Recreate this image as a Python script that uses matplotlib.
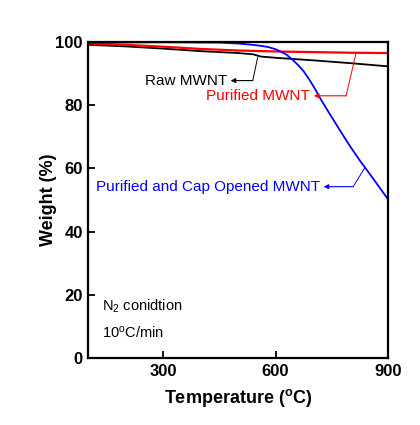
import numpy as np
import matplotlib
matplotlib.use("Agg")
import matplotlib.pyplot as plt

plt.rcParams['font.family'] = ['Liberation Sans', 'DejaVu Sans']
plt.rcParams['mathtext.fontset'] = 'custom'
plt.rcParams['mathtext.rm'] = 'Liberation Sans'
plt.rcParams['mathtext.it'] = 'Liberation Sans:italic'
plt.rcParams['mathtext.bf'] = 'Liberation Sans:bold'

# TGA curves
raw_T = [100, 200, 300, 400, 500, 540, 560, 600, 700, 800, 900]
raw_W = [99.0, 98.5, 97.8, 97.0, 96.4, 96.0, 95.3, 94.9, 94.1, 93.2, 92.2]

pur_T = [100, 200, 300, 400, 500, 600, 700, 800, 900]
pur_W = [99.4, 99.0, 98.4, 97.7, 97.2, 96.9, 96.7, 96.5, 96.4]

cap_T = [100, 300, 450, 500, 530, 560, 580, 600, 615, 630, 645, 660, 675, 690,
         705, 720, 740, 760, 780, 800, 825, 850, 875, 900]
cap_W = [99.7, 99.8, 99.7, 99.4, 99.1, 98.7, 98.3, 97.6, 96.8, 95.8, 94.3, 92.6,
         90.6, 88.0, 85.1, 81.9, 78.0, 74.2, 70.4, 66.7, 62.4, 58.4, 54.3, 50.2]

x_ticks = [300, 600, 900]
y_ticks = [0, 20, 40, 60, 80, 100]

# labels: (text, colour, curve point, corner, arrow tip)
labels = [
    ("Raw MWNT", "black", (552, 95.0), (539, 87.7), (480, 87.7)),
    ("Purified MWNT", "red", (814, 96.1), (788, 82.9), (702, 82.9)),
    ("Purified and Cap Opened MWNT", "blue", (837, 60.0), (807, 54.2), (728, 54.2)),
]

fig = plt.figure(figsize=(4.2, 4.25), dpi=100)
ax = fig.add_axes([0.21, 0.157, 0.714, 0.745])

ax.plot(raw_T, raw_W, color='black', lw=1.3)
ax.plot(pur_T, pur_W, color='red', lw=1.6)
ax.plot(cap_T, cap_W, color='blue', lw=1.3)

for txt, c, p, corner, tip in labels:
    ax.plot([p[0], corner[0]], [p[1], corner[1]], color=c, lw=0.7)
    ax.annotate('', xy=tip, xytext=corner,
                arrowprops=dict(arrowstyle='-|>', color=c, lw=0.8,
                                mutation_scale=7, shrinkA=0, shrinkB=0))
    ax.text(tip[0] - 10, tip[1], txt, color=c, fontsize=11,
            ha='right', va='center')

ax.text(136, 16.3, r'N$_2$ conidtion', fontsize=10.5, va='center')
ax.text(136, 8.0, r'10$^{\rm o}$C/min', fontsize=10.5, va='center')

ax.set_xlim(100, 900)
ax.set_ylim(0, 100)
ax.set_xticks(x_ticks)
ax.set_yticks(y_ticks)
ax.tick_params(direction='in', length=5, width=1.3, labelsize=12, pad=4,
               top=False, right=False)
for lab in ax.get_xticklabels() + ax.get_yticklabels():
    lab.set_fontweight('bold')
for s in ax.spines.values():
    s.set_linewidth(1.6)

ax.set_xlabel(r'Temperature ($\mathbf{^{o}}$C)', fontsize=13, fontweight='bold',
              labelpad=6)
ax.set_ylabel('Weight (%)', fontsize=13, fontweight='bold', labelpad=-1)

fig.savefig('out.png', dpi=100)
